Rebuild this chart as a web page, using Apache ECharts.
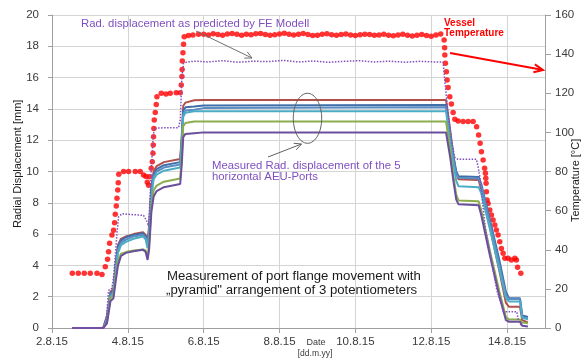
<!DOCTYPE html>
<html><head><meta charset="utf-8">
<script src="https://cdn.jsdelivr.net/npm/echarts@6/dist/echarts.min.js"></script>
<style>html,body{margin:0;padding:0;background:#fff}#c{width:588px;height:361px}</style>
</head><body><div id="c"></div>
<script>
// X axis: day of August 2015
const xTickLabels = ['2.8.15','4.8.15','6.8.15','8.8.15','10.8.15','12.8.15','14.8.15'];
const leftTicks = [0,2,4,6,8,10,12,14,16,18,20];
const rightTicks = [0,20,40,60,80,100,120,140,160];

// Measured radial displacement of the ports [mm] (shared time stamps, days)
const measDays = [2.535,3.35,3.45,3.54,3.62,3.68,3.74,3.82,3.95,4.15,4.40,4.47,4.52,4.56,4.62,4.68,4.76,4.95,5.38,5.42,5.46,5.52,5.75,6.0,12.39,12.50,12.59,12.66,12.72,13.25,13.32,13.55,13.80,13.97,14.05,14.34,14.40,14.55];
const portRed    = [0,0,0.8,2.3,2.5,4.2,5.3,5.7,5.85,6.0,6.12,5.95,5.5,6.5,9.0,10.0,10.35,10.6,10.8,12.2,14.2,14.4,14.55,14.57,14.57,12.65,10.9,9.9,9.5,9.45,8.8,6.4,3.6,1.6,1.35,1.35,0.5,0.35];
const portBlue   = [0,0,0.7,2.2,2.4,4.0,5.2,5.6,5.8,5.95,6.05,5.85,5.4,6.3,8.8,9.8,10.15,10.4,10.6,12.0,13.9,14.1,14.15,14.22,14.25,12.4,10.9,10.0,9.7,9.65,9.2,6.9,4.3,2.3,1.9,1.9,0.8,0.7];
const portSteel  = [0,0,0.6,2.1,2.3,3.8,5.0,5.45,5.65,5.85,5.95,5.75,5.3,6.1,8.6,9.7,10.0,10.25,10.45,11.8,13.7,13.9,13.95,14.05,14.1,12.3,10.7,9.85,9.6,9.55,9.1,6.7,4.0,2.1,1.85,1.85,0.7,0.6];
const portTeal   = [0,0,0.5,2.0,2.2,3.6,4.8,5.3,5.5,5.7,5.85,5.65,5.1,5.9,8.4,9.5,9.8,10.05,10.25,11.6,13.5,13.75,13.85,13.85,13.85,12.0,10.4,9.4,9.05,9.0,8.6,6.3,3.7,1.9,1.7,1.7,0.65,0.55];
const portGreen  = [0,0,0.4,1.9,2.1,3.3,4.3,4.75,4.85,4.95,5.02,4.95,4.6,5.3,7.8,8.8,9.1,9.35,9.55,10.9,12.9,13.1,13.2,13.2,13.2,11.4,9.6,8.5,8.15,8.1,7.5,4.9,2.3,0.7,0.55,0.55,0.35,0.3];
const portPurple = [0,0,0.3,1.7,1.9,3.0,4.0,4.6,4.8,4.9,5.0,4.85,4.35,5.0,7.4,8.4,8.75,9.0,9.2,10.4,12.2,12.4,12.45,12.5,12.5,10.9,9.3,8.2,7.9,7.85,7.2,4.6,2.0,0.5,0.4,0.4,0.15,0.1];

// FE model prediction [day, mm]
const feModel = [[2.535,0],[3.352,0],[3.431,0.5],[3.492,2.4],[3.581,2.55],[3.624,3.3],[3.668,4.55],[3.713,6.05],[3.755,7.1],[3.845,7.3],[4.064,7.25],[4.414,7.2],[4.504,6.8],[4.546,6.5],[4.591,8.6],[4.617,10.1],[4.670,12.3],[4.704,12.76],[4.986,12.8],[5.337,12.8],[5.382,13.3],[5.426,16.06],[5.469,16.9],[5.558,17.0],[5.8,17.05],[6.1,17.0],[6.5,17.08],[6.9,16.98],[7.3,17.05],[7.7,17.02],[8.1,17.1],[8.5,17.0],[8.9,17.06],[9.3,16.98],[9.7,17.04],[10.1,17.08],[10.5,17.0],[10.9,17.05],[11.3,16.98],[11.7,17.04],[12.1,17.0],[12.313,17.0],[12.374,15.4],[12.445,13.7],[12.532,12.0],[12.622,10.9],[12.709,10.78],[13.191,10.78],[13.236,10.3],[13.281,9.67],[13.421,6.47],[13.729,2.43],[13.903,1.04],[14.256,1.04],[14.298,0.5],[14.388,0.1]];

// Vessel temperature [day, °C]
const vesselTemp = [[2.535,28],[2.693,28],[2.851,28],[3.009,28],[3.186,28],[3.318,27.4],
[3.405,31.3],[3.465,35.1],[3.492,39],[3.518,43.3],[3.581,47.5],[3.624,50],[3.650,53.8],[3.668,58.1],[3.695,62.4],[3.713,66.3],[3.734,70.5],[3.747,74.3],[3.761,78.6],
[3.887,80],[4.019,80],[4.196,80],[4.327,80],[4.414,78.2],[4.478,77.5],[4.512,74.5],[4.547,73],[4.569,77.3],
[4.617,81.6],[4.644,85],[4.662,89.3],[4.670,93.5],[4.678,97.8],[4.686,102],[4.696,106.3],[4.723,110.2],[4.749,114.3],[4.767,118.2],
[4.881,120],[5.005,119.6],[5.118,120],[5.276,120.3],[5.382,120.3],
[5.408,124.2],[5.426,128.5],[5.431,132.2],[5.437,136.5],[5.453,140.7],[5.469,145],[5.487,148.9],
[5.600,149.5],[5.716,149.8],[5.864,150.1],
[6.0,150.2],[6.125,149.8],[6.25,150.4],[6.375,150.0],[6.5,149.6],[6.625,150.3],[6.75,150.5],[6.875,150.1],[7.0,149.7],[7.125,150.2],[7.25,149.9],[7.375,150.4],[7.5,150.6],[7.625,150.0],[7.75,149.6],[7.875,149.9],[8.0,150.3],[8.125,150.7],[8.25,150.2],[8.375,149.8],[8.5,150.1],[8.625,150.5],[8.75,150.0],[8.875,149.5],[9.0,149.7],[9.125,150.2],[9.25,150.4],[9.375,149.9],[9.5,149.6],[9.625,150.0],[9.75,150.3],[9.875,149.8],[10.0,149.5],[10.125,149.9],[10.25,150.2],[10.375,150.0],[10.5,149.6],[10.625,149.8],[10.75,150.2],[10.875,149.7],[11.0,149.4],[11.125,149.8],[11.25,150.1],[11.375,149.6],[11.5,149.3],[11.625,149.7],[11.75,150.0],[11.875,149.5],[12.0,149.2],[12.125,149.8],[12.25,150.3],
[12.340,147.2],[12.353,143.3],[12.358,139.5],[12.374,135.3],[12.400,131],[12.419,126.8],[12.445,123],[12.490,118.2],[12.532,114.5],[12.577,110.2],[12.622,106.7],
[12.709,105.8],[12.841,105.5],[12.973,105.5],[13.105,105.5],
[13.197,102.9],[13.249,98.7],[13.289,94.4],[13.323,90.1],[13.368,85.9],[13.407,81.6],[13.429,79.1],[13.439,76.5],[13.447,74],[13.455,69.7],[13.473,65.4],[13.499,63.7],[13.544,60.3],[13.587,57.8],[13.631,55.2],[13.676,52.7],[13.718,50.1],[13.763,47.5],[13.808,44.1],[13.850,40.7],[13.895,38.2],[13.940,35.6],
[14.027,35.6],[14.114,34.8],[14.204,35.6],[14.246,34.8],[14.277,31],[14.362,28]];

const FONT = '"Liberation Sans", Arial, sans-serif';
const ports = [
  {name:'Port 1', color:'#b24f4b', v:portRed},
  {name:'Port 2', color:'#3f6ea8', v:portBlue},
  {name:'Port 3', color:'#5a8cc4', v:portSteel},
  {name:'Port 4', color:'#4bacc6', v:portTeal},
  {name:'Port 5', color:'#8cad4e', v:portGreen},
  {name:'Port 6', color:'#6a4f9c', v:portPurple}
];
const series = ports.map(p => ({
  name:p.name, type:'line', yAxisIndex:0, showSymbol:false, silent:true,
  lineStyle:{color:p.color, width:2}, itemStyle:{color:p.color},
  data: measDays.map((d,i)=>[d,p.v[i]])
}));
series.push({name:'FE', type:'line', yAxisIndex:0, showSymbol:false,
  lineStyle:{color:'#7f4fc0', width:1.5, type:'dotted'}, data:feModel});
series.push({name:'Temp', type:'scatter', yAxisIndex:1, symbolSize:5.5,
  itemStyle:{color:'#ff0000'}, data:vesselTemp});

function txt(x, y, text, font, fill, sx, align) {
  return {type:'text', x:x, y:y, scaleX:sx||1, z:100,
    style:{text:text, fill:fill, font:font, align:align||'left', textAlign:align||'left',
      verticalAlign:'middle', textVerticalAlign:'middle'}};
}

const axisGray = '#a0a0a0';
const labelStyle = {color:'#3a3a3a', fontFamily:FONT, fontSize:11.5};
const chart = echarts.init(document.getElementById('c'), null, {renderer:'canvas'});
chart.setOption({
  animation:false,
  grid:{left:52, right:43, top:15, bottom:33},
  xAxis:{type:'value', min:2, max:15, interval:2,
    axisLine:{show:true, lineStyle:{color:axisGray}},
    axisTick:{show:true, length:5, lineStyle:{color:axisGray}},
    splitLine:{show:true, lineStyle:{color:'#d4d4d4'}},
    axisLabel:{...labelStyle, margin:8, showMaxLabel:false,
      formatter: v => { const i = xTickLabels.findIndex((t,k)=>2+2*k===v); return i>=0 ? xTickLabels[i] : ''; }}},
  yAxis:[
    {type:'value', min:leftTicks[0], max:leftTicks[leftTicks.length-1], interval:2, position:'left',
      axisLine:{show:true, lineStyle:{color:axisGray}},
      axisTick:{show:true, length:4, lineStyle:{color:axisGray}},
      splitLine:{show:true, lineStyle:{color:'#d4d4d4'}},
      axisLabel:{...labelStyle, margin:13}},
    {type:'value', min:rightTicks[0], max:rightTicks[rightTicks.length-1], interval:20, position:'right',
      axisLine:{show:true, lineStyle:{color:axisGray}},
      axisTick:{show:true, length:6, lineStyle:{color:axisGray}},
      splitLine:{show:false},
      axisLabel:{...labelStyle, margin:10}}
  ],
  series: series,
  graphic:[
    {type:'text', x:18, y:228, rotation:Math.PI/2, z:100,
      style:{text:'Radial Displacement [mm]', fill:'#1a1a1a', font:'11px '+FONT, align:'left', textAlign:'left', verticalAlign:'middle', textVerticalAlign:'middle'}},
    {type:'text', x:576, y:222, rotation:Math.PI/2, z:100,
      style:{text:'Temperature [°C]', fill:'#1a1a1a', font:'11px '+FONT, align:'left', textAlign:'left', verticalAlign:'middle', textVerticalAlign:'middle'}},
    txt(316, 343, 'Date', '9px '+FONT, '#3a3a3a', 1, 'center'),
    txt(315, 354, '[dd.m.yy]', '8.5px '+FONT, '#3a3a3a', 1, 'center'),
    txt(81, 24, 'Rad. displacement as predicted by FE Modell', '10.5px '+FONT, '#7f4fc0', 1.08),
    txt(212, 166, 'Measured Rad. displacement of the 5', '10.5px '+FONT, '#7f4fc0', 1.08),
    txt(212, 177, 'horizontal AEU-Ports', '10.5px '+FONT, '#7f4fc0', 1.08),
    txt(444, 23, 'Vessel', 'bold 10px '+FONT, '#ff0000'),
    txt(444, 33, 'Temperature', 'bold 10px '+FONT, '#ff0000'),
    txt(167, 277, 'Measurement of port flange movement with', '12px '+FONT, '#1a1a1a', 1.1),
    txt(166, 291, '\u201Epyramid" arrangement of 3 potentiometers', '12px '+FONT, '#1a1a1a', 1.1),
    // gray arrow to FE line
    {type:'line', z:100, shape:{x1:196, y1:31, x2:252, y2:58}, style:{stroke:'#707070', lineWidth:1}},
    {type:'polyline', z:100, shape:{points:[[244.2,58.1],[252,58],[247.2,51.8]]}, style:{stroke:'#707070', lineWidth:1, fill:null}},
    // ellipse + arrow
    {type:'ellipse', z:100, shape:{cx:307.5, cy:118.3, rx:14.2, ry:25}, style:{stroke:'#606060', lineWidth:1, fill:null}},
    {type:'line', z:100, shape:{x1:268, y1:157, x2:301.5, y2:144}, style:{stroke:'#606060', lineWidth:1}},
    {type:'polyline', z:100, shape:{points:[[296.2,149.8],[301.5,144],[293.7,143.3]]}, style:{stroke:'#606060', lineWidth:1, fill:null}},
    // red arrow
    {type:'line', z:100, shape:{x1:450, y1:53, x2:542, y2:69.8}, style:{stroke:'#ff0000', lineWidth:2}},
    {type:'polyline', z:100, shape:{points:[[533.4,72.3],[543,70],[534.9,64.4]]}, style:{stroke:'#ff0000', lineWidth:2, fill:null}}
  ]
});
</script></body></html>
